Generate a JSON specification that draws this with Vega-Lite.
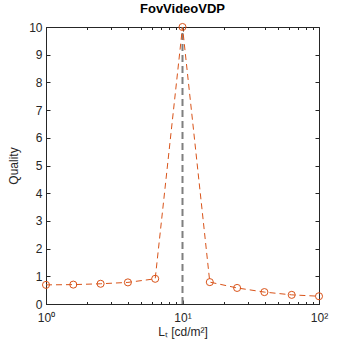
{
  "$schema": "https://vega.github.io/schema/vega-lite/v6.json",
  "width": 273,
  "height": 277,
  "autosize": {"type": "none"},
  "padding": {"left": 46, "top": 27, "right": 35, "bottom": 50},
  "background": "white",
  "config": {
    "view": {"stroke": "#262626", "strokeWidth": 1},
    "font": "Liberation Sans",
    "axis": {
      "grid": false,
      "domainColor": "#262626",
      "tickColor": "#262626",
      "labelColor": "#262626",
      "titleColor": "#262626",
      "labelFont": "Liberation Sans",
      "titleFont": "Liberation Sans",
      "labelFontSize": 12,
      "titleFontSize": 12,
      "titleFontWeight": "normal"
    }
  },
  "title": {
    "text": "FovVideoVDP",
    "fontSize": 13,
    "fontWeight": "bold",
    "font": "Liberation Sans",
    "color": "#000000",
    "offset": 5
  },
  "datasets": {
    "series": [
      {"Lt": 1, "Quality": 0.69},
      {"Lt": 1.585, "Quality": 0.70},
      {"Lt": 2.512, "Quality": 0.73},
      {"Lt": 3.981, "Quality": 0.78},
      {"Lt": 6.31, "Quality": 0.91},
      {"Lt": 10, "Quality": 10},
      {"Lt": 15.85, "Quality": 0.79},
      {"Lt": 25.12, "Quality": 0.58},
      {"Lt": 39.81, "Quality": 0.43},
      {"Lt": 63.1, "Quality": 0.33},
      {"Lt": 100, "Quality": 0.28}
    ],
    "ref": [{"Lt": 10, "lo": 0, "hi": 10}]
  },
  "resolve": {"axis": {"x": "independent", "y": "independent"}},
  "layer": [
    {
      "data": {"name": "ref"},
      "mark": {"type": "rule", "color": "#7f7f7f", "strokeWidth": 2, "strokeDash": [7, 4]},
      "encoding": {
        "x": {
          "field": "Lt", "type": "quantitative",
          "scale": {"type": "log", "domain": [1, 100], "nice": false},
          "axis": {
            "orient": "top", "labels": false, "title": null, "domain": false,
            "values": [1,2,3,4,5,6,7,8,9,10,20,30,40,50,60,70,80,90,100],
            "tickSize": {"condition": {"test": "datum.value==1||datum.value==10||datum.value==100", "value": -4}, "value": -2.5}
          }
        },
        "y": {
          "field": "lo", "type": "quantitative",
          "scale": {"domain": [0, 10], "nice": false},
          "axis": {"orient": "right", "labels": false, "title": null, "domain": false,
                   "values": [0,1,2,3,4,5,6,7,8,9,10], "tickSize": -4}
        },
        "y2": {"field": "hi"}
      }
    },
    {
      "data": {"name": "series"},
      "mark": {"type": "line", "color": "#D95319", "strokeWidth": 1, "strokeDash": [6, 4]},
      "encoding": {
        "x": {
          "field": "Lt", "type": "quantitative",
          "scale": {"type": "log", "domain": [1, 100], "nice": false},
          "axis": {
            "orient": "bottom",
            "title": "Lₜ [cd/m²]",
            "titlePadding": 2,
            "values": [1,2,3,4,5,6,7,8,9,10,20,30,40,50,60,70,80,90,100],
            "labelExpr": "datum.value==1?'10⁰':datum.value==10?'10¹':datum.value==100?'10²':''",
            "labelPadding": 12,
            "labelFlush": false,
            "labelOverlap": false,
            "tickSize": {"condition": {"test": "datum.value==1||datum.value==10||datum.value==100", "value": -4}, "value": -2.5}
          }
        },
        "y": {
          "field": "Quality", "type": "quantitative",
          "scale": {"domain": [0, 10], "nice": false},
          "axis": {
            "orient": "left",
            "title": "Quality",
            "values": [0,1,2,3,4,5,6,7,8,9,10],
            "labelPadding": 8,
            "titlePadding": 8,
            "tickSize": -4
          }
        }
      }
    },
    {
      "data": {"name": "series"},
      "mark": {"type": "point", "shape": "circle", "filled": false, "color": "#D95319", "strokeWidth": 1, "size": 50, "opacity": 1},
      "encoding": {
        "x": {"field": "Lt", "type": "quantitative", "scale": {"type": "log", "domain": [1, 100], "nice": false}, "axis": null},
        "y": {"field": "Quality", "type": "quantitative", "scale": {"domain": [0, 10], "nice": false}, "axis": null}
      }
    }
  ]
}
